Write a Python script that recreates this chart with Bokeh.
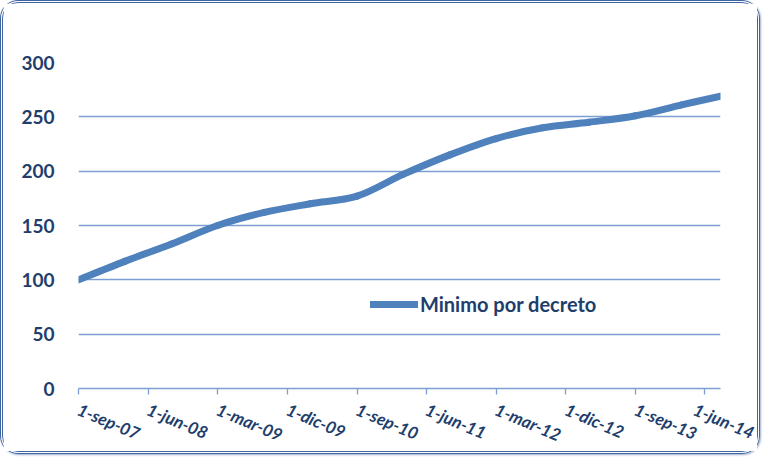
import pandas as pd
from bokeh.plotting import figure
from bokeh.models import FixedTicker, Range1d, Legend, LegendItem
from bokeh.embed import file_html
from bokeh.resources import INLINE

# ---- data ----
dates = ["2007-09-01", "2008-03-01", "2008-09-01", "2009-03-01", "2009-09-01",
         "2010-03-01", "2010-09-01", "2011-03-01", "2011-09-01", "2012-03-01",
         "2012-09-01", "2013-03-01", "2013-09-01", "2014-03-01", "2014-08-01"]
values = [100, 117, 133, 150, 162, 170, 177, 197, 215, 230, 240, 245, 251, 261, 269]
series_name = "Minimo por decreto"

tick_dates = ["2007-09-01", "2008-06-01", "2009-03-01", "2009-12-01", "2010-09-01",
              "2011-06-01", "2012-03-01", "2012-12-01", "2013-09-01", "2014-06-01"]
tick_labels = ["1-sep-07", "1-jun-08", "1-mar-09", "1-dic-09", "1-sep-10",
               "1-jun-11", "1-mar-12", "1-dic-12", "1-sep-13", "1-jun-14"]
y_ticks = [0, 50, 100, 150, 200, 250, 300]


def to_ms(ds):
    return [float(v) for v in (pd.to_datetime(ds).astype("int64") // 10**6)]


xs = to_ms(dates)
tx = to_ms(tick_dates)

# smoothed-line rendering (as a spreadsheet "smoothed line"): one cubic
# Bezier per segment, control points derived from neighbouring data points
n = len(xs)
x0, y0, x1, y1, cx0, cy0, cx1, cy1 = ([] for _ in range(8))
for i in range(n - 1):
    pa = max(i - 1, 0)
    pb = min(i + 2, n - 1)
    x0.append(xs[i]); y0.append(values[i])
    x1.append(xs[i + 1]); y1.append(values[i + 1])
    cx0.append(xs[i] + (xs[i + 1] - xs[pa]) / 6)
    cy0.append(values[i] + (values[i + 1] - values[pa]) / 6)
    cx1.append(xs[i + 1] - (xs[pb] - xs[i]) / 6)
    cy1.append(values[i + 1] - (values[pb] - values[i]) / 6)

LABEL = "#213d6b"
GRID = "#7d9ed3"
LINE = "#4f81bd"

p = figure(width=760, height=454, output_backend="svg", toolbar_location=None,
           x_range=Range1d(xs[0], xs[-1]), y_range=Range1d(0, 300),
           min_border_left=75, min_border_right=43, min_border_top=59, min_border_bottom=62)
p.styles = {"border": "3px double #3f64a0", "border-radius": "18px",
            "box-shadow": "1px 1px 2px rgba(63,100,160,0.5)"}
p.background_fill_color = "white"
p.border_fill_color = "white"
p.outline_line_color = None

r = p.bezier(x0=x0, y0=y0, x1=x1, y1=y1, cx0=cx0, cy0=cy0, cx1=cx1, cy1=cy1,
             line_width=7, line_color=LINE, line_cap="round")

# axes
p.xaxis.ticker = FixedTicker(ticks=tx)
p.xaxis.major_label_overrides = {t: l for t, l in zip(tx, tick_labels)}
p.xaxis.major_label_orientation = -0.40
p.xaxis.major_label_text_font = "Lato"
p.xaxis.major_label_text_font_style = "bold italic"
p.xaxis.major_label_text_font_size = "17px"
p.xaxis.major_label_text_color = LABEL
p.xaxis.major_label_standoff = 14
p.xaxis.axis_line_color = GRID
p.xaxis.axis_line_width = 1.3
p.xaxis.major_tick_line_color = GRID
p.xaxis.major_tick_line_width = 1.3
p.xaxis.major_tick_out = 6
p.xaxis.major_tick_in = 0
p.xaxis.minor_tick_line_color = None

p.yaxis.ticker = FixedTicker(ticks=y_ticks)
p.yaxis.major_label_text_font = "Lato"
p.yaxis.major_label_text_font_style = "bold"
p.yaxis.major_label_text_font_size = "19px"
p.yaxis.major_label_text_color = LABEL
p.yaxis.major_label_standoff = 18
p.yaxis.axis_line_color = None
p.yaxis.major_tick_line_color = None
p.yaxis.minor_tick_line_color = None

p.xgrid.grid_line_color = None
p.ygrid.ticker = FixedTicker(ticks=y_ticks[1:])
p.ygrid.grid_line_color = GRID
p.ygrid.grid_line_width = 1.3

legend = Legend(items=[LegendItem(label=series_name, renderers=[r])],
                location=(292, 72), padding=0, margin=0, spacing=0,
                glyph_width=48, glyph_height=20, label_height=20, label_standoff=2,
                label_text_font="Lato", label_text_font_style="bold",
                label_text_font_size="20px", label_text_color=LABEL,
                border_line_color=None, background_fill_alpha=0)
p.add_layout(legend, "center")

open("out.html", "w").write(file_html(p, INLINE))
